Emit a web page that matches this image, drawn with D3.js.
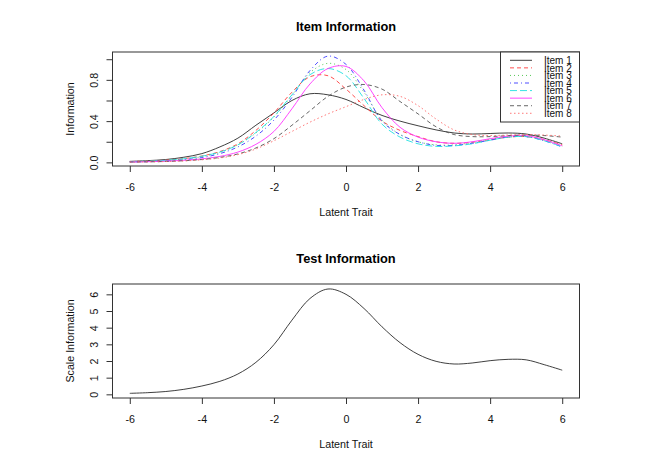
<!DOCTYPE html>
<html>
<head>
<meta charset="utf-8">
<script src="https://cdn.jsdelivr.net/npm/d3@7"></script>
<style>
  html, body { margin: 0; padding: 0; background: #fff; }
  svg { display: block; font-family: "Liberation Sans", Arial, Helvetica, sans-serif; }
</style>
</head>
<body>
<svg id="chart" width="666" height="464"></svg>
<script>
// ---- data ----
const theta = [-6,-5.5,-5,-4.5,-4,-3.5,-3,-2.5,-2,-1.5,-1,-0.5,0,0.5,1,1.5,2,2.5,3,3.5,4,4.5,5,5.5,6];
const itemNames = ["Item 1","Item 2","Item 3","Item 4","Item 5","Item 6","Item 7","Item 8"];
const item1 = [0.01,0.017,0.028,0.05,0.085,0.15,0.235,0.36,0.48,0.6,0.665,0.655,0.61,0.53,0.455,0.4,0.355,0.315,0.285,0.275,0.28,0.285,0.275,0.235,0.18];
const item2 = [0.008,0.013,0.022,0.037,0.062,0.105,0.18,0.31,0.48,0.68,0.83,0.84,0.71,0.55,0.4,0.31,0.25,0.2,0.185,0.195,0.22,0.245,0.25,0.22,0.17];
const item3 = [0.006,0.01,0.018,0.032,0.056,0.098,0.17,0.285,0.44,0.65,0.87,0.96,0.9,0.68,0.41,0.27,0.2,0.17,0.17,0.19,0.22,0.245,0.25,0.215,0.16];
const item4 = [0.004,0.008,0.014,0.026,0.047,0.085,0.15,0.255,0.41,0.63,0.89,1.03,0.95,0.7,0.4,0.27,0.2,0.165,0.165,0.185,0.215,0.245,0.25,0.21,0.15];
const item5 = [0.007,0.012,0.02,0.035,0.06,0.1,0.17,0.29,0.445,0.655,0.85,0.91,0.84,0.62,0.37,0.245,0.18,0.155,0.16,0.18,0.215,0.245,0.25,0.21,0.15];
const item6 = [0.004,0.007,0.012,0.02,0.034,0.058,0.1,0.175,0.3,0.52,0.76,0.91,0.93,0.79,0.53,0.34,0.245,0.2,0.185,0.2,0.23,0.255,0.26,0.22,0.16];
const item7 = [0.003,0.005,0.009,0.016,0.028,0.048,0.082,0.14,0.23,0.36,0.5,0.64,0.73,0.755,0.71,0.59,0.47,0.345,0.27,0.25,0.25,0.26,0.265,0.26,0.245];
const item8 = [0.003,0.005,0.008,0.014,0.025,0.043,0.075,0.13,0.21,0.3,0.39,0.47,0.54,0.61,0.655,0.64,0.55,0.42,0.315,0.27,0.26,0.265,0.27,0.265,0.255];
const testInfo = [0.06,0.1,0.17,0.3,0.5,0.78,1.22,1.92,2.98,4.45,5.75,6.32,6.0,5.15,4.05,3.1,2.4,1.98,1.82,1.88,2.02,2.1,2.07,1.78,1.45];

const xTicks = [-6,-4,-2,0,2,4,6];
const xTickLabels = ["-6","-4","-2","0","2","4","6"];
const yTicksTop = [0,0.2,0.4,0.6,0.8,1.0];
const yTickLabelsTop = ["0.0","","0.4","","0.8",""];
const yTicksBottom = [0,1,2,3,4,5,6];
const yTickLabelsBottom = ["0","1","2","3","4","5","6"];

const itemColors = ["#2a2a2a","#ff3b3b","#44c244","#3a3aff","#22e0e0","#ff33ff","#555555","#ff6a6a"];
const itemDashes = [null,"4,3","1,3","1,3,4,3","7,3",null,"4,3","1.5,2.5"];
const items = [item1,item2,item3,item4,item5,item6,item7,item8];

// ---- layout ----
const svg = d3.select("#chart");
const FS = 10.7;
const x = d3.scaleLinear().domain([-6.48, 6.48]).range([112.5, 579.5]);

function panel(top, yDomain, yTicks, yLabels, title, ytitle) {
  const bottom = top + 114;
  const y = d3.scaleLinear().domain(yDomain).range([bottom, top]);
  const g = svg.append("g");

  g.append("text").attr("x", 346).attr("y", top - 21)
    .attr("text-anchor", "middle").attr("font-weight", "bold")
    .attr("font-size", 12.8).attr("fill", "#000").text(title);

  const xa = g.append("g").attr("transform", `translate(0,${bottom})`)
    .call(d3.axisBottom(x).tickValues(xTicks)
      .tickFormat((d, i) => xTickLabels[i]).tickSize(6).tickSizeOuter(0).tickPadding(11));
  xa.select(".domain").remove();
  xa.selectAll("line").attr("stroke", "#333");
  xa.selectAll("text").attr("font-size", FS).attr("fill", "#111")
    .attr("font-family", "Liberation Sans, Arial, sans-serif");

  const ya = g.append("g").attr("transform", `translate(${x.range()[0]},0)`)
    .call(d3.axisLeft(y).tickValues(yTicks)
      .tickFormat((d, i) => yLabels[i]).tickSize(6).tickSizeOuter(0));
  ya.select(".domain").remove();
  ya.selectAll("line").attr("stroke", "#333");
  ya.selectAll("text").attr("font-size", FS).attr("fill", "#111")
    .attr("font-family", "Liberation Sans, Arial, sans-serif")
    .attr("x", null).attr("dy", null)
    .attr("text-anchor", "middle")
    .attr("transform", "translate(-15,0) rotate(-90)");

  g.append("text").attr("x", 346).attr("y", bottom + 49.5)
    .attr("text-anchor", "middle").attr("font-size", FS).attr("fill", "#111")
    .text("Latent Trait");
  g.append("text")
    .attr("transform", `translate(74,${(top + bottom) / 2}) rotate(-90)`)
    .attr("text-anchor", "middle").attr("font-size", FS).attr("fill", "#111")
    .text(ytitle);

  g.append("rect").attr("x", x.range()[0]).attr("y", top)
    .attr("width", x.range()[1] - x.range()[0]).attr("height", bottom - top)
    .attr("fill", "none").attr("stroke", "#333").attr("stroke-width", 1);

  return { g, y };
}

// Top panel: item information
const P1 = panel(52, [-0.035, 1.07], yTicksTop, yTickLabelsTop, "Item Information", "Information");
const line1 = d3.line().x((d, i) => x(theta[i])).y(d => P1.y(d)).curve(d3.curveCatmullRom.alpha(0.5));
items.forEach((vals, k) => {
  P1.g.append("path").datum(vals)
    .attr("d", line1)
    .attr("fill", "none")
    .attr("stroke", itemColors[k])
    .attr("stroke-width", 0.9)
    .attr("stroke-dasharray", itemDashes[k]);
});

// Legend
const lg = P1.g.append("g");
lg.append("rect").attr("x", 500.5).attr("y", 52).attr("width", 79).attr("height", 70)
  .attr("fill", "#fff").attr("stroke", "#333");
itemNames.forEach((name, k) => {
  const yy = 60.3 + k * 7.57;
  lg.append("line").attr("x1", 510).attr("x2", 532).attr("y1", yy).attr("y2", yy)
    .attr("stroke", itemColors[k]).attr("stroke-width", 0.9)
    .attr("stroke-dasharray", itemDashes[k]);
  lg.append("text").attr("x", 544).attr("y", yy + 3.7)
    .attr("font-size", 10).attr("fill", "#111").text(name);
});

// Bottom panel: test information
const P2 = panel(284, [-0.22, 6.62], yTicksBottom, yTickLabelsBottom, "Test Information", "Scale Information");
const line2 = d3.line().x((d, i) => x(theta[i])).y(d => P2.y(d)).curve(d3.curveCatmullRom.alpha(0.5));
P2.g.append("path").datum(testInfo)
  .attr("d", line2).attr("fill", "none").attr("stroke", "#2a2a2a").attr("stroke-width", 0.9);
</script>
</body>
</html>
